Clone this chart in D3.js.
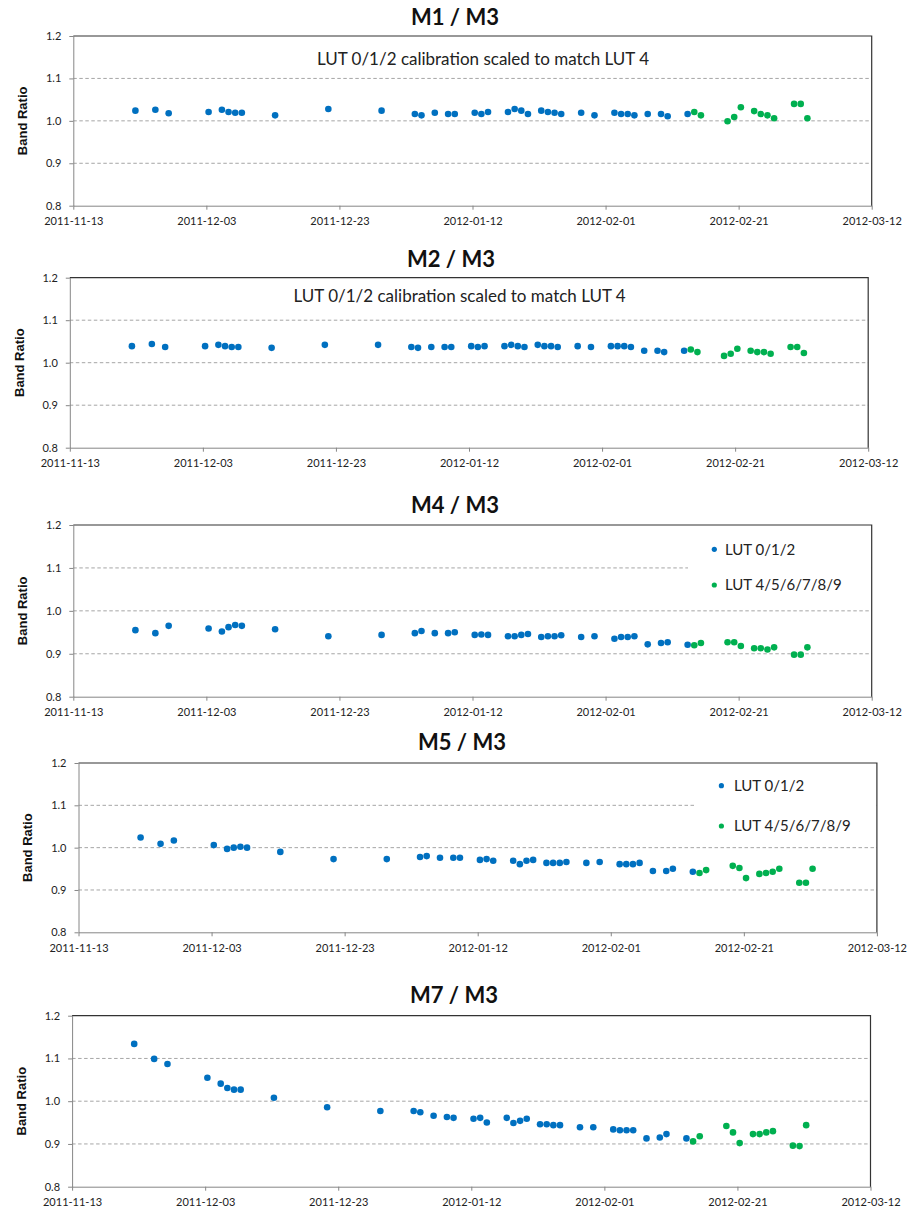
<!DOCTYPE html>
<html>
<head>
<meta charset="utf-8">
<script src="https://cdn.jsdelivr.net/npm/d3@7"></script>
<style>
  body { margin: 0; background: #fff; }
  svg { display: block; }
  .tick text { font-family: Lato, "Open Sans", sans-serif; font-size: 11px; fill: #222; }
</style>
</head>
<body>
<svg id="chart" width="910" height="1209"></svg>
<script>
// observation dates (same for every band ratio)
const datesLut012 = [
  "2011-11-22", "2011-11-25", "2011-11-27", "2011-12-03", "2011-12-05", "2011-12-06",
  "2011-12-07", "2011-12-08", "2011-12-13", "2011-12-21", "2011-12-29", "2012-01-03",
  "2012-01-04", "2012-01-06", "2012-01-08", "2012-01-09", "2012-01-12", "2012-01-13",
  "2012-01-14", "2012-01-17", "2012-01-18", "2012-01-19", "2012-01-20", "2012-01-22",
  "2012-01-23", "2012-01-24", "2012-01-25", "2012-01-28", "2012-01-30", "2012-02-02",
  "2012-02-03", "2012-02-04", "2012-02-05", "2012-02-07", "2012-02-09", "2012-02-10",
  "2012-02-13"
];
const datesLut4 = [
  "2012-02-14", "2012-02-15", "2012-02-19", "2012-02-20", "2012-02-21", "2012-02-23",
  "2012-02-24", "2012-02-25", "2012-02-26", "2012-02-29", "2012-03-01", "2012-03-02"
];
const obsTime = "08:00";

// band ratios, LUT 0/1/2 (blue) and LUT 4/5/6/7/8/9 (green)
const m1Lut012 = [1.024, 1.026, 1.018, 1.021, 1.026, 1.021, 1.019, 1.019, 1.013, 1.028,
  1.024, 1.016, 1.013, 1.019, 1.016, 1.016, 1.019, 1.016, 1.021, 1.021, 1.028, 1.024,
  1.016, 1.024, 1.021, 1.019, 1.016, 1.019, 1.013, 1.019, 1.016, 1.016, 1.013, 1.016,
  1.016, 1.011, 1.016];
const m1Lut4 = [1.021, 1.013, 0.999, 1.009, 1.032, 1.023, 1.016, 1.013, 1.006, 1.040, 1.040, 1.006];

const m2Lut012 = [1.039, 1.044, 1.037, 1.039, 1.042, 1.039, 1.037, 1.037, 1.035, 1.042,
  1.042, 1.037, 1.035, 1.037, 1.037, 1.037, 1.039, 1.037, 1.039, 1.039, 1.042, 1.039,
  1.037, 1.042, 1.039, 1.039, 1.037, 1.039, 1.037, 1.039, 1.039, 1.039, 1.037, 1.028,
  1.028, 1.025, 1.028];
const m2Lut4 = [1.031, 1.025, 1.016, 1.021, 1.033, 1.028, 1.025, 1.025, 1.021, 1.037, 1.037, 1.023];

const m4Lut012 = [0.955, 0.948, 0.965, 0.959, 0.952, 0.962, 0.967, 0.965, 0.957, 0.941,
  0.944, 0.948, 0.953, 0.948, 0.948, 0.950, 0.944, 0.945, 0.944, 0.941, 0.941, 0.944,
  0.946, 0.939, 0.941, 0.941, 0.943, 0.939, 0.941, 0.935, 0.939, 0.939, 0.941, 0.922,
  0.925, 0.927, 0.921];
const m4Lut4 = [0.920, 0.925, 0.927, 0.927, 0.918, 0.913, 0.913, 0.910, 0.915, 0.898, 0.898, 0.915];

const m5Lut012 = [1.024, 1.009, 1.017, 1.006, 0.997, 1.000, 1.002, 1.000, 0.990, 0.973,
  0.973, 0.978, 0.980, 0.976, 0.976, 0.976, 0.971, 0.973, 0.969, 0.969, 0.961, 0.969,
  0.971, 0.964, 0.964, 0.964, 0.966, 0.964, 0.966, 0.961, 0.961, 0.961, 0.964, 0.945,
  0.945, 0.950, 0.943];
const m5Lut4 = [0.940, 0.947, 0.957, 0.952, 0.928, 0.938, 0.940, 0.943, 0.950, 0.917, 0.917, 0.950];

const m7Lut012 = [1.134, 1.099, 1.087, 1.055, 1.041, 1.031, 1.027, 1.027, 1.008, 0.986,
  0.977, 0.977, 0.974, 0.966, 0.963, 0.961, 0.959, 0.961, 0.950, 0.961, 0.949, 0.954,
  0.959, 0.946, 0.946, 0.944, 0.944, 0.939, 0.939, 0.934, 0.932, 0.932, 0.932, 0.913,
  0.915, 0.923, 0.913];
const m7Lut4 = [0.906, 0.918, 0.942, 0.927, 0.902, 0.923, 0.923, 0.927, 0.930, 0.896, 0.895, 0.944];

const panelTitles = ["M1 / M3", "M2 / M3", "M4 / M3", "M5 / M3", "M7 / M3"];
const yTickValues = [0.8, 0.9, 1.0, 1.1, 1.2];
const xTickLabels = ["2011-11-13", "2011-12-03", "2011-12-23", "2012-01-12",
  "2012-02-01", "2012-02-21", "2012-03-12"];
const legendLabels = ["LUT 0/1/2", "LUT 4/5/6/7/8/9"];
const noteText = "LUT 0/1/2 calibration scaled to match LUT 4";
const yTitle = "Band Ratio";

const series = [
  [m1Lut012, m1Lut4],
  [m2Lut012, m2Lut4],
  [m4Lut012, m4Lut4],
  [m5Lut012, m5Lut4],
  [m7Lut012, m7Lut4]
];

// page layout
const plotW = 798.4;
const layout = [
  { left: 73.3, top: 36, bottom: 205.7, titleX: 455, titleY: 25, note: [483, 65] },
  { left: 69.8, top: 277.7, bottom: 447.7, titleX: 451, titleY: 266.7, note: [459.6, 301.7] },
  { left: 73.3, top: 525, bottom: 696.7, titleX: 455, titleY: 513.4,
    legend: { boxX: 688, dotX: 714.3, textX: 725, y: [549.3, 585] } },
  { left: 78.5, top: 763, bottom: 932.3, titleX: 462, titleY: 750,
    legend: { boxX: 695, dotX: 721.4, textX: 734, y: [785.7, 826] } },
  { left: 72.1, top: 1015.7, bottom: 1186.7, titleX: 454, titleY: 1003.4 }
];
const colors = ["#0070C0", "#00B050"];

const svg = d3.select("#chart");
const parseDay = d3.utcParse("%Y-%m-%d");
const parseObs = d3.utcParse("%Y-%m-%d %H:%M");
const xTicks = xTickLabels.map(parseDay);

series.forEach((vals, i) => {
  const L = layout[i];
  const right = L.left + plotW;
  const x = d3.scaleUtc()
    .domain([xTicks[0], xTicks[xTicks.length - 1]])
    .range([L.left, right]);
  const y = d3.scaleLinear().domain([0.8, 1.2]).range([L.bottom, L.top]);

  const g = svg.append("g");

  // title
  g.append("text")
    .attr("x", L.titleX).attr("y", L.titleY)
    .attr("text-anchor", "middle")
    .style("font-family", "Lato, 'Open Sans', sans-serif")
    .style("font-weight", "bold")
    .style("font-size", "22px")
    .attr("fill", "#111")
    .text(panelTitles[i]);

  // dashed gridlines
  g.append("g").selectAll("line")
    .data(yTickValues.filter(v => v > 0.8 && v < 1.2))
    .join("line")
    .attr("x1", L.left).attr("x2", right)
    .attr("y1", d => y(d)).attr("y2", d => y(d))
    .attr("stroke", "#a6a6a6")
    .attr("stroke-dasharray", "3.5,2.5");

  // white legend box hides part of the 1.1 gridline
  if (L.legend) {
    g.append("rect")
      .attr("x", L.legend.boxX).attr("y", L.top + 2)
      .attr("width", right - 1 - L.legend.boxX).attr("height", 78)
      .attr("fill", "#fff");
  }

  // axes
  const yAxis = d3.axisLeft(y)
    .tickValues(yTickValues)
    .tickFormat(d3.format(".1f"))
    .tickSize(4).tickSizeOuter(0).tickPadding(8);
  g.append("g")
    .attr("transform", `translate(${L.left},0)`)
    .call(yAxis)
    .call(a => a.selectAll("line, path").attr("stroke", "#868686"));

  const xAxis = d3.axisBottom(x)
    .tickValues(xTicks)
    .tickFormat(d3.utcFormat("%Y-%m-%d"))
    .tickSize(4).tickSizeOuter(0).tickPadding(8);
  g.append("g")
    .attr("transform", `translate(0,${L.bottom})`)
    .call(xAxis)
    .call(a => a.selectAll("line, path").attr("stroke", "#868686"));

  // top and right border of plot area
  g.append("path")
    .attr("d", `M${L.left},${L.top}H${right}V${L.bottom}`)
    .attr("fill", "none")
    .attr("stroke", "#333")
    .attr("stroke-width", 1.2);

  // y axis title
  const cy = (L.top + L.bottom) / 2;
  g.append("text")
    .attr("transform", `translate(${L.left - 50.8},${cy}) rotate(-90)`)
    .attr("text-anchor", "middle")
    .attr("dy", "0.35em")
    .style("font-family", "'Liberation Sans', Arial, sans-serif")
    .style("font-weight", "bold")
    .style("font-size", "13px")
    .attr("fill", "#111")
    .text(yTitle);

  // note or legend
  if (L.note) {
    g.append("text")
      .attr("x", L.note[0]).attr("y", L.note[1])
      .attr("text-anchor", "middle")
      .style("font-family", "Lato, 'Open Sans', sans-serif")
      .style("font-size", "17px")
      .attr("fill", "#222")
      .text(noteText);
  }
  if (L.legend) {
    legendLabels.forEach((lab, k) => {
      g.append("circle")
        .attr("cx", L.legend.dotX).attr("cy", L.legend.y[k])
        .attr("r", 2.6).attr("fill", colors[k]);
      g.append("text")
        .attr("x", L.legend.textX).attr("y", L.legend.y[k])
        .attr("dy", "0.36em")
        .style("font-family", "Lato, 'Open Sans', sans-serif")
        .style("font-size", "15px")
        .attr("fill", "#222")
        .text(lab);
    });
  }

  // points
  [datesLut012, datesLut4].forEach((dates, k) => {
    const pts = dates.map((d, j) => ({ date: parseObs(`${d} ${obsTime}`), value: vals[k][j] }));
    g.append("g").selectAll("circle")
      .data(pts)
      .join("circle")
      .attr("cx", d => x(d.date))
      .attr("cy", d => y(d.value))
      .attr("r", 3.3)
      .attr("fill", colors[k]);
  });
});
</script>
</body>
</html>
